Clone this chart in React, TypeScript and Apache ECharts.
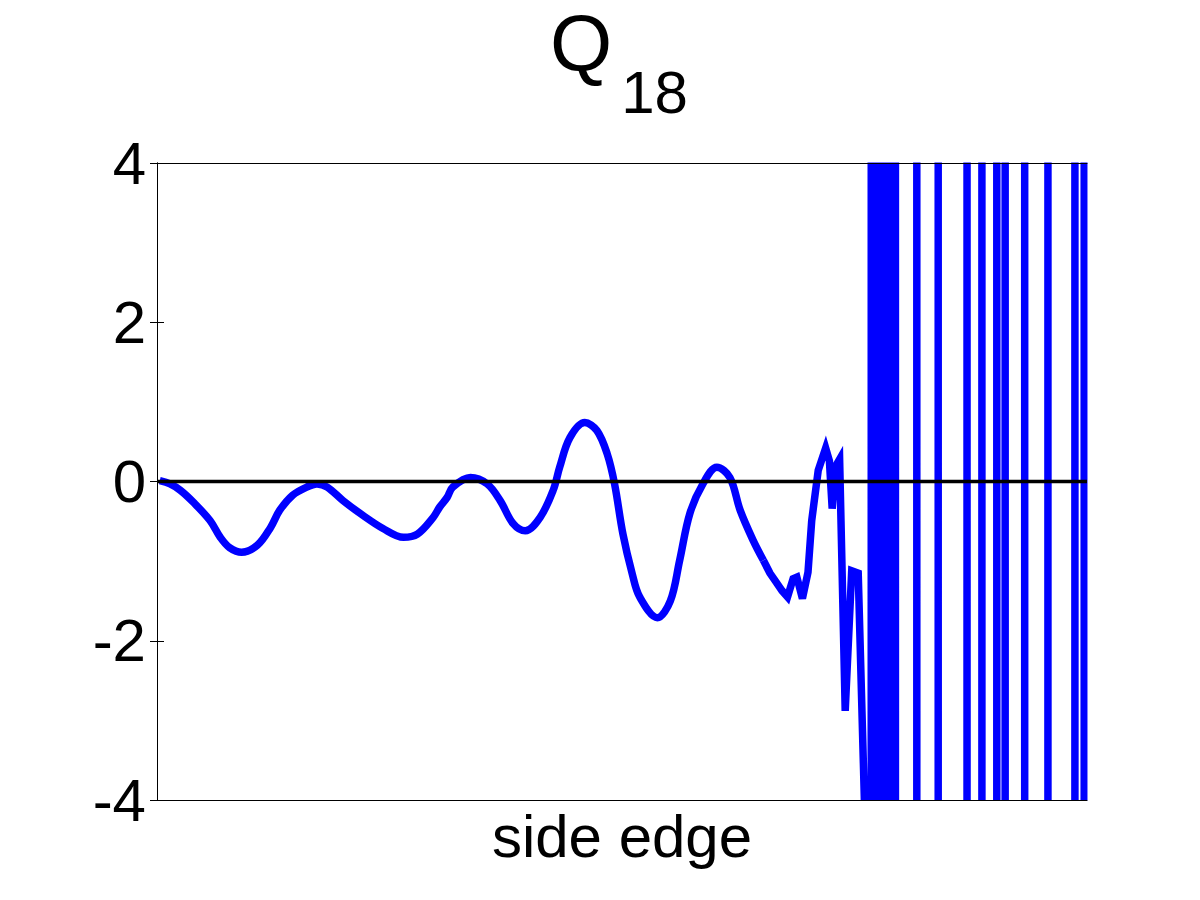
import React, { useEffect, useRef } from "react";
import * as echarts from "echarts";

// Position along the side edge (0..100) and the value of Q_18 there — smooth part
const smoothPos = [
  0.3, 1.4, 2.5, 3.9, 5.7, 6.8, 7.8, 9.1, 10.8, 12.2, 13.2, 14.6, 16.1, 17.2, 18.3, 20.0,
  22.2, 24.3, 26.5, 28.0, 29.7, 30.4, 31.2, 31.8, 33.7, 35.5, 36.9, 38.3, 39.6, 41.2, 42.6,
  43.3, 44.4, 46.0, 47.3, 48.4, 49.2, 50.1, 51.1, 51.9, 53.8, 55.2, 56.2, 57.3, 58.7, 60.2,
  61.6, 62.7, 64.1, 65.2,
];
const smoothVal = [
  0.01, -0.03, -0.11, -0.26, -0.49, -0.7, -0.83, -0.89, -0.8, -0.58, -0.36, -0.17, -0.07, -0.03,
  -0.07, -0.24, -0.43, -0.59, -0.7, -0.66, -0.45, -0.32, -0.2, -0.07, 0.05, -0.03, -0.24, -0.53,
  -0.62, -0.45, -0.11, 0.18, 0.55, 0.74, 0.64, 0.35, -0.03, -0.66, -1.16, -1.45, -1.71, -1.5,
  -0.99, -0.4, -0.03, 0.18, 0.05, -0.36, -0.74, -0.99,
];
// Jagged and wildly oscillating part near the corner
const roughPos = [
  65.2, 65.9, 66.5, 67.2, 67.8, 68.4, 68.8, 69.4, 70.0, 70.4, 71.1, 71.9,
  72.3, 72.6, 73.0, 73.4, 74.0, 74.7, 75.4, 76.2,
  76.8, 76.8, 77.4, 77.4, 78.1, 78.1, 78.7, 78.7, 79.4, 79.4, 81.7, 81.7, 84.0, 84.0,
  87.1, 87.1, 88.7, 88.7, 90.3, 90.3, 91.2, 91.2, 93.3, 93.3, 95.8, 95.8, 98.7, 98.7,
  99.7, 99.7,
];
const roughVal = [
  -0.99, -1.15, -1.25, -1.37, -1.45, -1.22, -1.2, -1.47, -1.14, -0.49, 0.14, 0.42,
  0.26, -0.34, 0.2, 0.28, -2.88, -1.12, -1.15, -4.6,
  -50, 50, 50, -50, -50, 50, 50, -50, -50, 50, 50, -50, -50, 50,
  50, -50, -50, 50, 50, -50, -50, 50, 50, -50, -50, 50, 50, -50,
  -50, 50,
];

const zeroPos = [0, 100];
const zeroVal = [0, 0];

const yTicks = [-4, -2, 0, 2, 4];

const FONT = "'Liberation Sans', Arial, Helvetica, sans-serif";

const GRID = { left: 157, top: 163, width: 930, height: 637 };

export default function App() {
  const ref = useRef<HTMLDivElement>(null);

  useEffect(() => {
    if (!ref.current) return;
    const chart = echarts.init(ref.current, null, { renderer: "svg" });
    const yMin = yTicks[0];
    const yMax = yTicks[yTicks.length - 1];
    const yAxisBase = {
      type: "value" as const,
      min: yMin,
      max: yMax,
      interval: yTicks[1] - yTicks[0],
      z: 10,
      splitLine: { show: false },
      axisLine: { show: true, lineStyle: { color: "#000", width: 1 } },
      axisTick: { show: true, inside: true, length: 7, lineStyle: { color: "#000", width: 1 } },
    };
    const blue = { color: "#0000ff", width: 7.5, join: "miter" as const, cap: "butt" as const };
    const gr = GRID;
    const right = gr.left + gr.width;
    const bottom = gr.top + gr.height;
    const mask = (x: number, y: number, w: number, h: number) => ({
      type: "rect",
      z: 5,
      silent: true,
      shape: { x, y, width: w, height: h },
      style: { fill: "#fff" },
    });
    chart.setOption({
      animation: false,
      backgroundColor: "#fff",
      title: {
        text: "{q|Q}{s|18}",
        left: 550,
        top: 3,
        padding: 0,
        textStyle: {
          rich: {
            q: {
              fontSize: 80,
              fontWeight: "normal",
              fontFamily: FONT,
              color: "#000",
              lineHeight: 80,
              verticalAlign: "top",
            },
            s: {
              fontSize: 60,
              fontWeight: "normal",
              fontFamily: FONT,
              color: "#000",
              lineHeight: 60,
              verticalAlign: "top",
              padding: [59, 0, 0, 9],
            },
          },
        },
      },
      grid: { ...GRID, show: false },
      graphic: [
        mask(gr.left - 1, gr.top - 14, gr.width + 16, 13.5),
        mask(gr.left - 1, bottom + 0.5, gr.width + 16, 13),
        mask(right + 0.5, gr.top - 14, 14, gr.height + 28),
        mask(gr.left - 14, gr.top + 20, 13.5, gr.height - 40),
      ],
      xAxis: [
        {
          type: "value",
          min: 0,
          max: 100,
          position: "bottom",
          z: 10,
          name: "side edge",
          nameLocation: "middle",
          nameGap: 36,
          nameTextStyle: { fontSize: 60, fontFamily: FONT, color: "#000", verticalAlign: "middle" },
          axisLine: { show: true, onZero: false, lineStyle: { color: "#000", width: 1 } },
          axisTick: { show: false },
          axisLabel: { show: false },
          splitLine: { show: false },
        },
        {
          type: "value",
          min: 0,
          max: 100,
          position: "top",
          z: 10,
          axisLine: { show: true, onZero: false, lineStyle: { color: "#000", width: 1 } },
          axisTick: { show: false },
          axisLabel: { show: false },
          splitLine: { show: false },
        },
      ],
      yAxis: [
        {
          ...yAxisBase,
          position: "left",
          axisLabel: {
            show: true,
            fontSize: 60,
            fontFamily: FONT,
            color: "#000",
            margin: 11,
          },
        },
        {
          ...yAxisBase,
          position: "right",
          axisLabel: { show: false },
        },
      ],
      series: [
        {
          type: "line",
          name: "Q18",
          data: smoothPos.map((x, i) => [x, smoothVal[i]]),
          showSymbol: false,
          symbol: "none",
          smooth: 0.35,
          clip: true,
          lineStyle: blue,
          z: 2,
        },
        {
          type: "line",
          name: "Q18 corner",
          data: roughPos.map((x, i) => [x, roughVal[i]]),
          showSymbol: false,
          symbol: "none",
          clip: true,
          lineStyle: blue,
          z: 2,
        },
        {
          type: "line",
          name: "zero",
          data: zeroPos.map((x, i) => [x, zeroVal[i]]),
          showSymbol: false,
          symbol: "none",
          lineStyle: { color: "#000", width: 3.5 },
          z: 3,
        },
      ],
    });
    return () => chart.dispose();
  }, []);

  return (
    <div
      ref={ref}
      style={{ position: "absolute", left: 0, top: 0, width: 1200, height: 900, background: "#fff" }}
    />
  );
}
